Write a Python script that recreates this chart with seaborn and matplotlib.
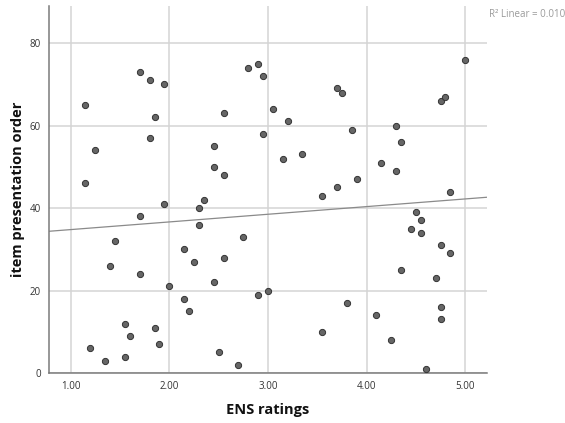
import matplotlib
matplotlib.use("Agg")
import matplotlib.pyplot as plt
import seaborn as sns
import pandas as pd

ens_ratings = [1.15, 1.70, 1.80, 1.95, 1.85, 1.80, 1.25, 1.15, 2.80, 2.90,
               2.95, 2.55, 3.05, 2.95, 2.45, 2.45, 2.55, 2.35, 5.00, 3.70,
               3.75, 3.20, 3.85, 4.30, 4.35, 4.75, 4.80, 3.15, 3.35, 4.15,
               4.30, 3.90, 3.70, 3.55, 4.85, 1.95, 2.30, 1.70, 2.30, 2.75,
               1.45, 2.15, 2.55, 2.25, 1.40, 1.70, 2.45, 2.00, 3.00, 2.90,
               2.15, 2.20, 1.55, 1.85, 1.60, 1.90, 1.20, 2.50, 1.35, 1.55,
               2.70, 4.50, 4.55, 4.45, 4.55, 4.75, 4.85, 4.35, 4.70, 3.80,
               4.75, 4.10, 4.75, 3.55, 4.25, 4.60]
presentation_order = [65, 73, 71, 70, 62, 57, 54, 46, 74, 75,
                      72, 63, 64, 58, 55, 50, 48, 42, 76, 69,
                      68, 61, 59, 60, 56, 66, 67, 52, 53, 51,
                      49, 47, 45, 43, 44, 41, 40, 38, 36, 33,
                      32, 30, 28, 27, 26, 24, 22, 21, 20, 19,
                      18, 15, 12, 11, 9, 7, 6, 5, 3, 4,
                      2, 39, 37, 35, 34, 31, 29, 25, 23, 17,
                      16, 14, 13, 10, 8, 1]
x_ticks = [1.0, 2.0, 3.0, 4.0, 5.0]
x_tick_labels = ["1.00", "2.00", "3.00", "4.00", "5.00"]
y_ticks = [0, 20, 40, 60, 80]
r2_label = "R\u00b2 Linear = 0.010"

df = pd.DataFrame({"ENS ratings": ens_ratings,
                   "item presentation order": presentation_order})

sns.set_theme(style="white")
plt.rcParams["font.family"] = ["Open Sans", "DejaVu Sans"]

fig = plt.figure(figsize=(5.65, 4.23), dpi=100)
ax = fig.add_axes([0.0867, 0.1182, 0.775, 0.8676])

ax.set_xlim(0.78, 5.22)
ax.set_ylim(0, 89)
ax.set_xticks(x_ticks)
ax.set_xticklabels(x_tick_labels)
ax.set_yticks(y_ticks)
ax.grid(True, color="#d4d4d4", linewidth=1.1, zorder=0)
ax.set_axisbelow(True)

sns.regplot(data=df, x="ENS ratings", y="item presentation order", ax=ax,
            ci=None, truncate=False,
            scatter_kws=dict(s=20, color="#666666", edgecolor="#333333",
                             linewidths=0.7, alpha=1, zorder=3),
            line_kws=dict(color="#8a8a8a", linewidth=0.9, zorder=2))

for side in ["top", "right"]:
    ax.spines[side].set_visible(False)
for side in ["left", "bottom"]:
    ax.spines[side].set_color("#7a7a7a")
    ax.spines[side].set_linewidth(1.1)

ax.tick_params(axis="both", length=0, labelsize=7, colors="#333333", pad=6)
ax.set_xlabel("ENS ratings", fontsize=10.5, fontweight="bold", color="#111111", labelpad=8)
ax.set_ylabel("item presentation order", fontsize=10.5, fontweight="bold", color="#111111")
ax.yaxis.set_label_coords(-0.055, 0.5)

fig.text(0.866, 0.966, r2_label, fontsize=7, color="#9a9a9a", ha="left", va="center")

fig.savefig("out.png", dpi=100)
